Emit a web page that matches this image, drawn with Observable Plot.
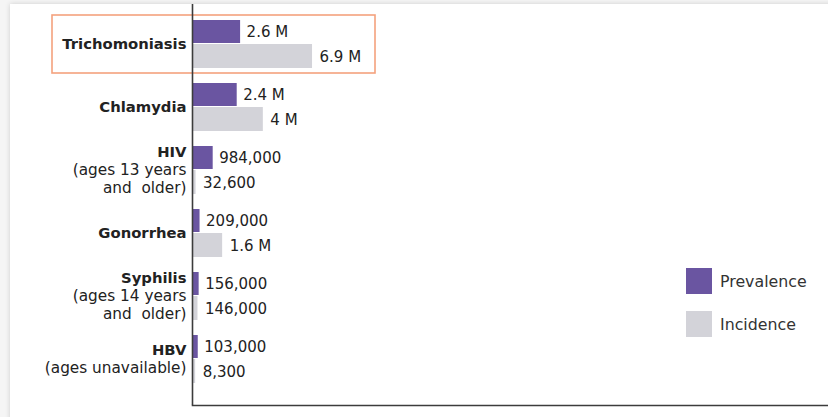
<!DOCTYPE html>
<html>
<head>
<meta charset="utf-8">
<script src="https://cdn.jsdelivr.net/npm/d3@7"></script>
<script src="https://cdn.jsdelivr.net/npm/@observablehq/plot@0.6"></script>
<style>
  html, body { margin: 0; padding: 0; background: #f5f5f5; }
  #wrap { position: relative; width: 828px; height: 417px; overflow: hidden; }
  #card { position: absolute; left: 10px; top: 4px; width: 830px; height: 430px; background: #fff;
          box-shadow: 0 0 5px rgba(0,0,0,0.16); }
  #chart { position: absolute; left: 0; top: 0; }
  #legend { position: absolute; left: 686px; top: 268px; font-family: "DejaVu Sans", sans-serif; font-size: 15.8px; color: #333; }
  .item { display: flex; align-items: center; height: 26px; margin-bottom: 17px; }
  .sw { width: 26px; height: 26px; margin-right: 8px; }
</style>
</head>
<body>
<div id="wrap"><div id="card"></div><div id="chart"></div><div id="legend"></div></div>
<script>
const diseases = ["Trichomoniasis", "Chlamydia", "HIV", "Gonorrhea", "Syphilis", "HBV"];
const subtitles = ["", "", "(ages 13 years\nand  older)", "", "(ages 14 years\nand  older)", "(ages unavailable)"];
const prevalence = [2600000, 2400000, 984000, 209000, 156000, 103000];
const incidence = [6900000, 4000000, 32600, 1600000, 146000, 8300];
const seriesNames = ["Prevalence", "Incidence"];
const seriesColors = ["#6a55a1", "#d3d3d9"];
const highlighted = ["Trichomoniasis"];

const fmt = v => v >= 1e6 ? `${+(v / 1e6).toFixed(1)} M` : d3.format(",")(v);
const rows = diseases.map((d, i) => ({ disease: d, prevalence: prevalence[i], incidence: incidence[i] }));

// one entry per label line; offset = line index relative to the centre of the label block
const labelLines = diseases.flatMap((d, i) => {
  const lines = [d, ...(subtitles[i] ? subtitles[i].split("\n") : [])];
  return lines.map((t, j) => ({ disease: d, text: t, bold: j === 0, offset: j - (lines.length - 1) / 2 }));
});
const lineHeight = 18;
const labelMarks = [];
for (const bold of [true, false]) {
  for (const off of [...new Set(labelLines.map(l => l.offset))]) {
    const sel = labelLines.filter(l => l.bold === bold && l.offset === off);
    if (!sel.length) continue;
    labelMarks.push(Plot.text(sel, { y: "disease", x: 0, text: "text", dx: -6, dy: off * lineHeight,
      textAnchor: "end", fontSize: bold ? 14.8 : 15.3, fontWeight: bold ? 700 : 400, fill: "#222" }));
  }
}

const font = "DejaVu Sans, sans-serif";
const chart = Plot.plot({
  width: 828,
  height: 417,
  marginLeft: 192,
  marginRight: 0,
  marginTop: 4,
  marginBottom: 12,
  style: { background: "transparent", fontFamily: font },
  x: { domain: [0, 37.5e6], axis: null },
  y: { domain: diseases, paddingInner: 0, paddingOuter: 0.133, align: 0.353, axis: null },
  marks: [
    Plot.barX(rows, { y: "disease", x: "prevalence", fill: seriesColors[0], insetTop: 8, insetBottom: 32, insetRight: -4 }),
    Plot.barX(rows, { y: "disease", x: "incidence", fill: seriesColors[1], insetTop: 32, insetBottom: 7, insetRight: -3 }),
    Plot.text(rows, { y: "disease", x: "prevalence", text: d => fmt(d.prevalence), dx: 10, dy: -12, textAnchor: "start",
      fontSize: 15, fill: "#222" }),
    Plot.text(rows, { y: "disease", x: "incidence", text: d => fmt(d.incidence), dx: 10, dy: 13, textAnchor: "start",
      fontSize: 15, fill: "#222" }),
    ...labelMarks,
    Plot.barX(rows.filter(d => highlighted.includes(d.disease)), { y: "disease", x1: 0, x2: 0, fill: "none",
      stroke: "#f4a27e", strokeWidth: 1.6, insetLeft: -140, insetRight: -183, insetTop: 3, insetBottom: 2 }),
    Plot.ruleX([0], { stroke: "#3c3c3c", strokeWidth: 1.6 }),
    Plot.frame({ anchor: "bottom", stroke: "#3c3c3c", strokeWidth: 1.6 })
  ]
});
document.getElementById("chart").appendChild(chart);

const legend = document.getElementById("legend");
seriesNames.forEach((name, i) => {
  const item = document.createElement("div");
  item.className = "item";
  const sw = document.createElement("div");
  sw.className = "sw";
  sw.style.background = seriesColors[i];
  const label = document.createElement("span");
  label.textContent = name;
  item.appendChild(sw);
  item.appendChild(label);
  legend.appendChild(item);
});
</script>
</body>
</html>
